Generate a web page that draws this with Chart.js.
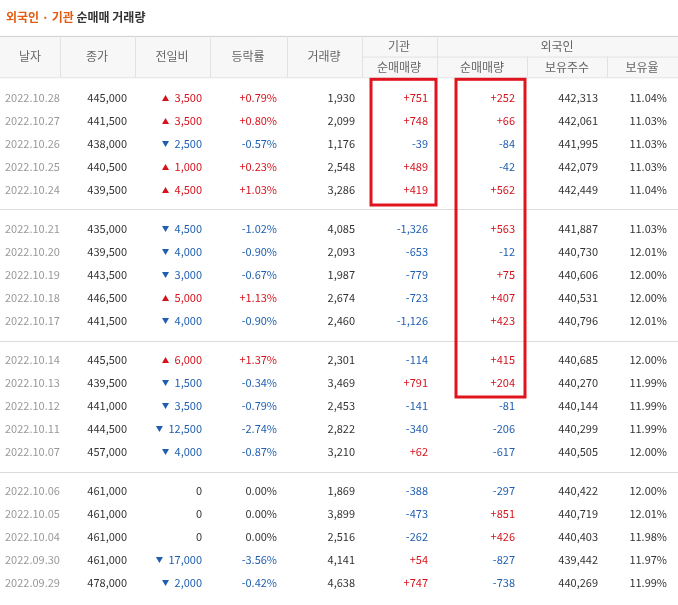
<!DOCTYPE html>
<html><head><meta charset="utf-8">
<script src="https://cdn.jsdelivr.net/npm/chart.js@4"></script>
<style>html,body{margin:0;padding:0;background:#fff}#wrap{width:678px;height:605px;position:relative}</style>
</head><body><div id="wrap"><canvas id="c"></canvas></div>
<script>
const dates=["2022.10.28","2022.10.27","2022.10.26","2022.10.25","2022.10.24","2022.10.21","2022.10.20","2022.10.19","2022.10.18","2022.10.17","2022.10.14","2022.10.13","2022.10.12","2022.10.11","2022.10.07","2022.10.06","2022.10.05","2022.10.04","2022.09.30","2022.09.29"];
const closes=[445000,441500,438000,440500,439500,435000,439500,443500,446500,441500,445500,439500,441000,444500,457000,461000,461000,461000,461000,478000];
const diffs=[3500,3500,-2500,1000,4500,-4500,-4000,-3000,5000,-4000,6000,-1500,-3500,-12500,-4000,0,0,0,-17000,-2000];
const rates=[0.79,0.80,-0.57,0.23,1.03,-1.02,-0.90,-0.67,1.13,-0.90,1.37,-0.34,-0.79,-2.74,-0.87,0,0,0,-3.56,-0.42];
const volumes=[1930,2099,1176,2548,3286,4085,2093,1987,2674,2460,2301,3469,2453,2822,3210,1869,3899,2516,4141,4638];
const instNet=[751,748,-39,489,419,-1326,-653,-779,-723,-1126,-114,791,-141,-340,62,-388,-473,-262,54,747];
const foreignNet=[252,66,-84,-42,562,563,-12,75,407,423,415,204,-81,-206,-617,-297,851,426,-827,-738];
const holdings=[442313,442061,441995,442079,442449,441887,440730,440606,440531,440796,440685,440270,440144,440299,440505,440422,440719,440403,439442,440269];
const ratios=[11.04,11.03,11.03,11.03,11.04,11.03,12.01,12.00,12.00,12.01,12.00,11.99,11.99,11.99,12.00,12.00,12.01,11.98,11.97,11.99];

const GAP=16/23;
const slot=i=>Math.floor(i/5)*(5+GAP)+(i%5);
const RED="#d6121c",BLUE="#1f5fb0",TXT="#333",GRAY="#999";
const fmt=n=>Math.abs(n).toLocaleString('en-US');
const sgn=n=>(n>0?"+":n<0?"-":"")+fmt(n);
const col=n=>n>0?RED:n<0?BLUE:TXT;

const tablePlugin={id:'tbl',afterDatasetsDraw(ch){
 const c=ch.ctx,x=ch.scales.x,y=ch.scales.y;
 const X=v=>x.getPixelForValue(v),Y=v=>y.getPixelForValue(v);
 const F='"Noto Sans CJK KR","Noto Sans",sans-serif';
 c.save();c.textBaseline='middle';
 // title
 c.font='bold 12px '+F;c.textAlign='left';
 c.fillStyle='#e35b10';c.fillText('외국인 · 기관',X(6),Y(-3.52));
 const w=c.measureText('외국인 · 기관 ').width;
 c.fillStyle='#333';c.fillText('순매매 거래량',X(6)+w,Y(-3.52));
 // header
 const hT=Y(-2.7),hM=Y(-1.8),hB=Y(-0.9);
 c.fillStyle='#f7f7f7';c.fillRect(X(0),hT,X(678)-X(0),hB-hT);
 c.strokeStyle='#cfcfcf';c.lineWidth=1;
 c.beginPath();c.moveTo(X(0),hT+0.5);c.lineTo(X(678),hT+0.5);c.stroke();
 c.strokeStyle='#e2e2e2';
 c.beginPath();c.moveTo(X(0),hB+0.5);c.lineTo(X(678),hB+0.5);
 c.moveTo(X(362),hM+0.5);c.lineTo(X(678),hM+0.5);
 [60,135,210,287,362,437].forEach(v=>{c.moveTo(X(v)+0.5,hT);c.lineTo(X(v)+0.5,hB);});
 [527,607].forEach(v=>{c.moveTo(X(v)+0.5,hM);c.lineTo(X(v)+0.5,hB);});
 c.stroke();
 c.font='12px '+F;c.fillStyle='#666';c.textAlign='center';
 const hc=(hT+hB)/2,h1=(hT+hM)/2,h2=(hM+hB)/2;
 [['날자',30],['종가',97],['전일비',172],['등락률',248],['거래량',324]].forEach(a=>c.fillText(a[0],X(a[1]),hc));
 c.fillText('기관',X(399),h1);c.fillText('외국인',X(557),h1);
 [['순매매량',399],['순매매량',482],['보유주수',567],['보유율',642]].forEach(a=>c.fillText(a[0],X(a[1]),h2));
 // group separators
 c.strokeStyle='#dcdcdc';
 for(let g=1;g<4;g++){const yy=Math.round((Y(slot(g*5-1))+Y(slot(g*5)))/2)+0.5;c.beginPath();c.moveTo(X(0),yy);c.lineTo(X(678),yy);c.stroke();}
 // rows
 dates.forEach((d,i)=>{
  const yy=Y(slot(i));
  c.font='11px '+F;c.textAlign='left';c.fillStyle=GRAY;c.fillText(d,X(5),yy);
  c.textAlign='right';
  c.fillStyle=TXT;c.fillText(fmt(closes[i]),X(127),yy);
  c.fillStyle=col(diffs[i]);c.fillText(fmt(diffs[i]),X(202),yy);
  if(diffs[i]!==0){const tw=c.measureText(fmt(diffs[i])).width;const tx=X(202)-tw-9;
   c.beginPath();if(diffs[i]>0){c.moveTo(tx-3.5,yy+3);c.lineTo(tx+3.5,yy+3);c.lineTo(tx,yy-3);}else{c.moveTo(tx-3.5,yy-3);c.lineTo(tx+3.5,yy-3);c.lineTo(tx,yy+3);}c.fill();}
  c.fillStyle=col(rates[i]);c.fillText((rates[i]>0?'+':'')+rates[i].toFixed(2)+'%',X(277),yy);
  c.fillStyle=TXT;c.fillText(fmt(volumes[i]),X(355),yy);
  c.fillStyle=col(instNet[i]);c.fillText(sgn(instNet[i]),X(428),yy);
  c.fillStyle=col(foreignNet[i]);c.fillText(sgn(foreignNet[i]),X(515),yy);
  c.fillStyle=TXT;c.fillText(fmt(holdings[i]),X(598),yy);
  c.fillText(ratios[i].toFixed(2)+'%',X(667),yy);
 });
 // highlight boxes
 c.strokeStyle='#e0141e';c.lineWidth=3;
 c.strokeRect(X(371),Y(-0.9)+2,X(436)-X(371),Y(slot(4))+15-(Y(-0.9)+2));
 c.strokeRect(X(456),Y(-0.9)+2,X(525)-X(456),Y(slot(11))+14-(Y(-0.9)+2));
 c.restore();
}};

new Chart(document.getElementById('c'),{
 type:'scatter',
 data:{datasets:[{data:dates.map((d,i)=>({x:0,y:slot(i)})),pointRadius:0}]},
 options:{responsive:true,maintainAspectRatio:false,animation:false,
  layout:{padding:0},
  plugins:{legend:{display:false},tooltip:{enabled:false}},
  scales:{x:{type:'linear',min:0,max:678,display:false},
          y:{type:'linear',reverse:true,min:-98/23,max:507/23,display:false}}},
 plugins:[tablePlugin]
});
</script></body></html>
